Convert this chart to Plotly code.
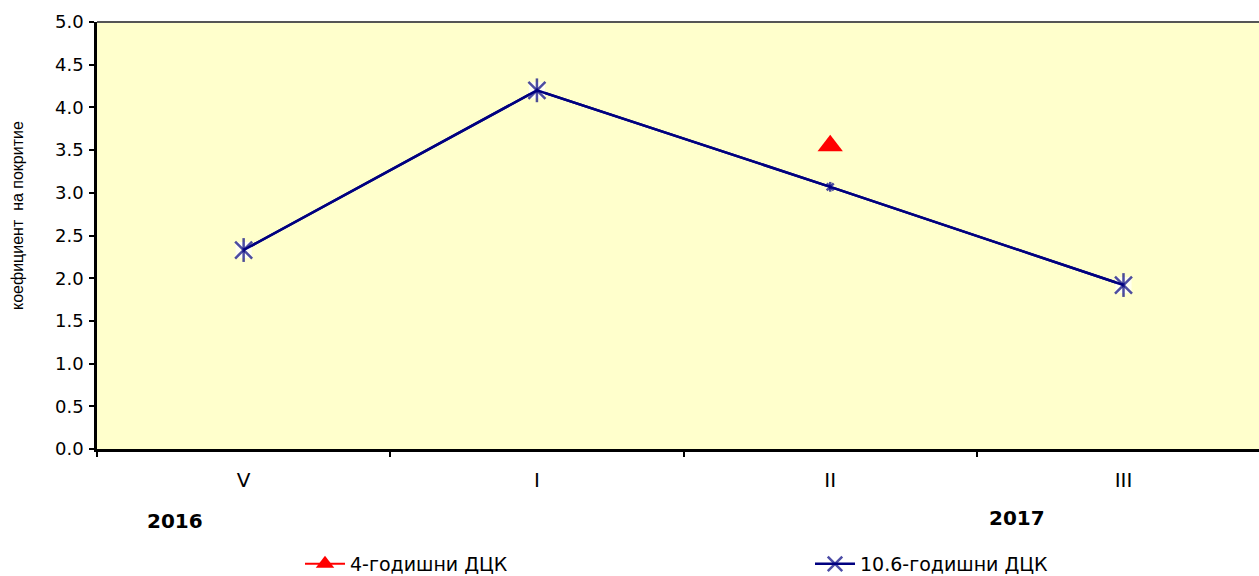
import plotly.graph_objects as go

categories = ["V", "I", "II", "III"]
bond_4y = [None, None, 3.55, None]
bond_10y = [2.33, 4.20, 3.07, 1.92]
marker_sizes_10y = [17, 17, 7, 17]
year_labels = ["2016", "2017"]
y_title = "коефициент  на покритие"
series_names = ["4-годишни ДЦК", "10.6-годишни ДЦК"]

FONT = "DejaVu Sans, sans-serif"
TFONT = "Liberation Sans, Arial, sans-serif"
NAVY = "#000080"
L, T, B, W, H = 97, 22, 449, 1259, 576
PW, PH = W - L, B - T


def px_x(px):
    return (px - L) / PW


def px_y(py):
    return (B - py) / PH


fig = go.Figure()

# white background squares behind star markers
fig.add_trace(go.Scatter(
    x=categories, y=bond_10y, mode="lines+markers",
    line=dict(color=NAVY, width=2.5),
    marker=dict(symbol="square", size=[s * 0.95 for s in marker_sizes_10y], color="white",
                line=dict(width=0)),
    showlegend=False, hoverinfo="skip"))
fig.add_trace(go.Scatter(
    x=categories, y=bond_10y, mode="markers",
    marker=dict(symbol="line-ns-open", size=marker_sizes_10y, color=NAVY,
                line=dict(color=NAVY, width=2.5)),
    showlegend=False, hoverinfo="skip"))
fig.add_trace(go.Scatter(
    x=categories, y=bond_4y, mode="lines+markers", name=series_names[0],
    line=dict(color="#FF0000", width=2),
    marker=dict(symbol="triangle-up", size=22, color="#FF0000"),
    showlegend=True, legend="legend"))
fig.add_trace(go.Scatter(
    x=categories, y=bond_10y, mode="lines+markers", name=series_names[1],
    line=dict(color=NAVY, width=2.5),
    marker=dict(symbol="x-thin-open", size=marker_sizes_10y, color=NAVY,
                line=dict(color=NAVY, width=2.5)),
    showlegend=True, legend="legend2"))

legend_common = dict(orientation="h", yanchor="middle", xanchor="left",
                     font=dict(family=FONT, size=19, color="black"),
                     bgcolor="rgba(0,0,0,0)", itemwidth=40)

fig.update_layout(
    width=W, height=H,
    margin=dict(l=L, r=0, t=T, b=H - B, autoexpand=False),
    paper_bgcolor="white", plot_bgcolor="#FFFFCC",
    font=dict(family=FONT, size=18, color="black"),
    legend=dict(x=px_x(300), y=px_y(564), **legend_common),
    legend2=dict(x=px_x(810), y=px_y(564), **legend_common),
    xaxis=dict(type="category", range=[-0.5, 3.462], tickson="boundaries",
               showline=True, linecolor="black", linewidth=2.5,
               ticks="outside", ticklen=5, tickwidth=2, tickcolor="black",
               showgrid=False, zeroline=False, ticklabelstandoff=11,
               tickfont=dict(size=20, family=FONT)),
    xaxis2=dict(range=[-0.5, 3.462], overlaying="x", anchor="y", side="bottom",
                tickmode="array", tickvals=[-0.5, 0.5, 1.5, 2.5, 3.5],
                ticks="inside", ticklen=9, tickwidth=2, tickcolor="black",
                showticklabels=False, showgrid=False, zeroline=False, showline=False),
    yaxis=dict(range=[0, 5], dtick=0.5, tick0=0, tickformat=".1f",
               showline=True, linecolor="black", linewidth=2.5,
               ticks="outside", ticklen=5, tickwidth=2, tickcolor="black",
               showgrid=False, zeroline=False, ticklabelstandoff=2,
               tickfont=dict(size=18, family=FONT)),
    yaxis2=dict(range=[0, 5], overlaying="y", anchor="x", side="left",
                tickmode="linear", dtick=0.5, tick0=0,
                ticks="inside", ticklen=7, tickwidth=2, tickcolor="black",
                showticklabels=False, showgrid=False, zeroline=False, showline=False),
)

# top border of the plot area
fig.add_shape(type="line", xref="paper", yref="paper", x0=0, x1=1, y0=1, y1=1,
              line=dict(color="#555555", width=2))

fig.add_annotation(text=y_title, xref="paper", yref="paper", textangle=-90,
                   x=px_x(18), y=px_y(215), xanchor="center", yanchor="middle",
                   showarrow=False, font=dict(size=16, family=TFONT, color="black"))
fig.add_annotation(text="<b>" + year_labels[0] + "</b>", xref="paper", yref="paper",
                   x=px_x(175), y=px_y(521), xanchor="center", yanchor="middle",
                   showarrow=False, font=dict(size=20, family=FONT))
fig.add_annotation(text="<b>" + year_labels[1] + "</b>", xref="paper", yref="paper",
                   x=px_x(1017), y=px_y(518), xanchor="center", yanchor="middle",
                   showarrow=False, font=dict(size=20, family=FONT))

fig.write_html("out.html", config={"displayModeBar": False},
               post_script="document.body.style.margin='0px';")
